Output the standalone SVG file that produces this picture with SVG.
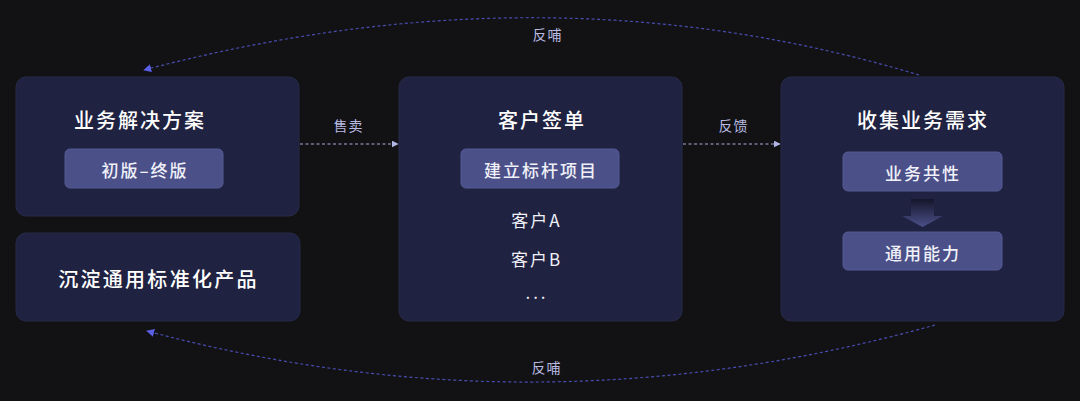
<svg xmlns="http://www.w3.org/2000/svg" width="1080" height="401" viewBox="0 0 1080 401">
<defs>
<style>
.box{fill:#1f2240;stroke:#272a48;stroke-width:1}
.inner{fill:#4b5089;stroke:#555a93;stroke-width:1}
.t{font-family:"Noto Sans CJK SC","Noto Sans",sans-serif;fill:#ffffff;text-anchor:middle;dominant-baseline:central}
.title{font-size:20px;font-weight:500;letter-spacing:2px}
.sub{font-size:17px;font-weight:500;fill:#f0f0f8;letter-spacing:2px}
.lbl{font-size:14px;fill:#b9bbe2;letter-spacing:1px}
.item{font-size:17px;fill:#f0f0f8;letter-spacing:2px}
.arr{fill:none;stroke:#a6a9d6;stroke-width:1.2;stroke-dasharray:3 2.5}
.arc{fill:none;stroke:#484db0;stroke-width:1.2;stroke-dasharray:3 2.5}
</style>
<marker id="ah" viewBox="0 0 10 10" refX="9" refY="5" markerWidth="7" markerHeight="7" markerUnits="userSpaceOnUse" orient="auto"><path d="M0,0L10,5L0,10Z" fill="#b3b6e4"/></marker>
<marker id="bh" viewBox="0 0 10 10" refX="9" refY="5" markerWidth="8" markerHeight="8" markerUnits="userSpaceOnUse" orient="auto"><path d="M0,0L10,5L0,10Z" fill="#5a5fe6"/></marker>
<linearGradient id="dg" x1="0" y1="0" x2="0" y2="1"><stop offset="0" stop-color="#14162a"/><stop offset="1" stop-color="#4b5089"/></linearGradient>
</defs>
<rect width="1080" height="401" fill="#121214"/>
<g id="connectors">
<path class="arr" d="M300,144H398" marker-end="url(#ah)"/>
<path class="arr" d="M683,144H780" marker-end="url(#ah)"/>
<path class="arc" d="M919,75Q549,-37 144,70" marker-end="url(#bh)"/>
<path class="arc" d="M935,325Q539,436 147,331" marker-end="url(#bh)"/>
<text class="t lbl" x="348.5" y="125">售卖</text>
<text class="t lbl" x="733.5" y="125">反馈</text>
<text class="t lbl" x="547.5" y="34">反哺</text>
<text class="t lbl" x="546.5" y="367">反哺</text>
</g>
<g id="node-solution">
<rect class="box" x="16" y="77" width="283" height="139" rx="10"/>
<text class="t title" x="140" y="119" style="letter-spacing:2px">业务解决方案</text>
<rect class="inner" x="65" y="149" width="158" height="39" rx="5"/>
<text class="t sub" x="145" y="169">初版–终版</text>
</g>
<g id="node-product">
<rect class="box" x="16" y="233" width="284" height="88" rx="10"/>
<text class="t title" x="158.5" y="278" style="letter-spacing:2.3px">沉淀通用标准化产品</text>
</g>
<g id="node-sign">
<rect class="box" x="399" y="77" width="283" height="244" rx="10"/>
<text class="t title" x="542" y="119">客户签单</text>
<rect class="inner" x="461" y="149" width="158" height="39" rx="5"/>
<text class="t sub" x="541" y="169">建立标杆项目</text>
<text class="t item" x="536.5" y="219">客户A</text>
<text class="t item" x="536.5" y="258">客户B</text>
<text class="t item" x="537" y="291" style="letter-spacing:3px">...</text>
</g>
<g id="node-collect">
<rect class="box" x="781" y="77" width="283" height="244" rx="10"/>
<text class="t title" x="923" y="119">收集业务需求</text>
<rect class="inner" x="843" y="152" width="159" height="39" rx="5"/>
<text class="t sub" x="923" y="172">业务共性</text>
<path d="M911,199H934V216H943L922.5,227L902,216H911Z" fill="url(#dg)"/>
<rect class="inner" x="843" y="232" width="159" height="38" rx="5"/>
<text class="t sub" x="923" y="252">通用能力</text>
</g>
</svg>
